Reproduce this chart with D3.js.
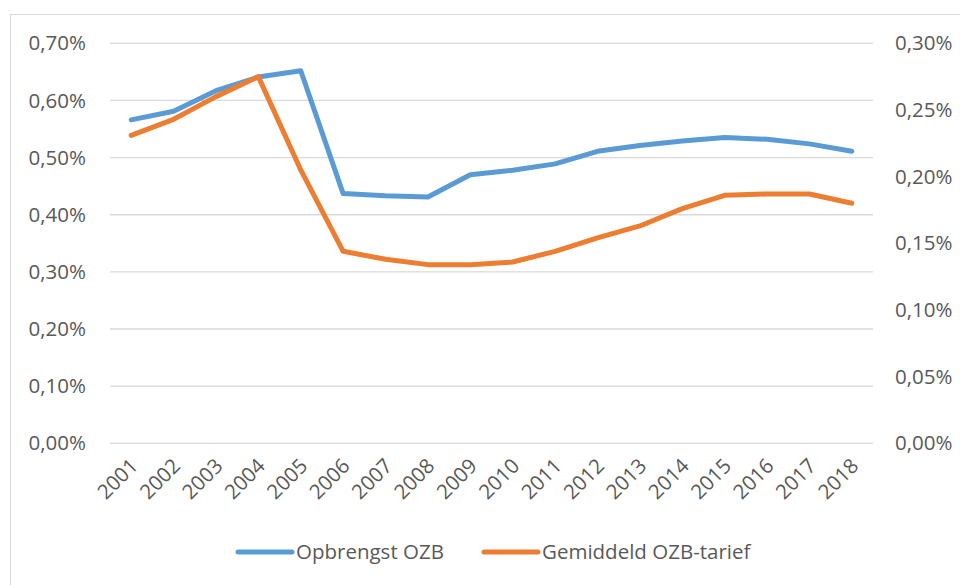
<!DOCTYPE html>
<html>
<head>
<meta charset="utf-8">
<script src="https://cdn.jsdelivr.net/npm/d3@7"></script>
<style>
  html, body { margin: 0; padding: 0; background: #fff; }
  svg { display: block; font-family: "Open Sans", "Liberation Sans", sans-serif; }
</style>
</head>
<body>
<svg id="chart" width="960" height="585"></svg>
<script>
// Years on the category axis
const years = ["2001","2002","2003","2004","2005","2006","2007","2008","2009",
               "2010","2011","2012","2013","2014","2015","2016","2017","2018"];

// Opbrengst OZB (left axis, percent)
const opbrengst = [0.566, 0.581, 0.617, 0.641, 0.652, 0.437, 0.433, 0.431, 0.470,
                   0.478, 0.489, 0.511, 0.521, 0.529, 0.535, 0.532, 0.524, 0.511];

// Gemiddeld OZB-tarief (right axis, percent)
const tarief = [0.231, 0.243, 0.260, 0.275, 0.205, 0.144, 0.138, 0.134, 0.134,
                0.136, 0.144, 0.154, 0.163, 0.176, 0.186, 0.187, 0.187, 0.180];

const leftTicks = [0, 0.1, 0.2, 0.3, 0.4, 0.5, 0.6, 0.7];
const rightTicks = [0, 0.05, 0.1, 0.15, 0.2, 0.25, 0.3];
const seriesNames = ["Opbrengst OZB", "Gemiddeld OZB-tarief"];
const colors = ["#5B9BD5", "#ED7D31"];

const svg = d3.select("#chart");
const plot = { left: 110, right: 873, top: 43.3, bottom: 443.3 };
const fontSize = 20.5;
const textColor = "#595959";

const x = d3.scaleBand().domain(years).range([plot.left, plot.right]);
const yL = d3.scaleLinear().domain([0, 0.7]).range([plot.bottom, plot.top]);
const yR = d3.scaleLinear().domain([0, 0.3]).range([plot.bottom, plot.top]);
const fmt = v => d3.format(".2f")(v).replace(".", ",") + "%";

// Outer chart border
svg.append("rect")
  .attr("x", 10.5).attr("y", 14.5).attr("width", 980).attr("height", 600)
  .attr("fill", "none").attr("stroke", "#d9d9d9").attr("stroke-width", 1);

// Horizontal gridlines on the left-axis ticks
svg.append("g").selectAll("line").data(leftTicks).join("line")
  .attr("x1", plot.left).attr("x2", plot.right)
  .attr("y1", d => yL(d)).attr("y2", d => yL(d))
  .attr("stroke", "#d9d9d9").attr("stroke-width", 1.3);

// Left axis
const axL = svg.append("g").attr("transform", `translate(${plot.left - 24},0)`)
  .call(d3.axisLeft(yL).tickValues(leftTicks).tickFormat(fmt).tickSize(0).tickPadding(0));
axL.select(".domain").remove();
axL.selectAll("text").attr("font-size", fontSize).attr("fill", textColor)
  .attr("font-family", "Open Sans, sans-serif");

// Right axis
const axR = svg.append("g").attr("transform", `translate(${plot.right + 22},0)`)
  .call(d3.axisRight(yR).tickValues(rightTicks).tickFormat(fmt).tickSize(0).tickPadding(0));
axR.select(".domain").remove();
axR.selectAll("text").attr("font-size", fontSize).attr("fill", textColor)
  .attr("font-family", "Open Sans, sans-serif");

// Category axis with rotated year labels
const axX = svg.append("g").attr("transform", `translate(0,${plot.bottom})`)
  .call(d3.axisBottom(x).tickSize(0).tickPadding(0));
axX.select(".domain").remove();
axX.selectAll("text")
  .attr("font-size", fontSize).attr("fill", textColor)
  .attr("font-family", "Open Sans, sans-serif")
  .attr("text-anchor", "end")
  .attr("dy", 0)
  .attr("transform", "translate(8,24) rotate(-45)");

// Lines
const lineL = d3.line().x((d, i) => x(years[i]) + x.bandwidth() / 2).y(d => yL(d));
const lineR = d3.line().x((d, i) => x(years[i]) + x.bandwidth() / 2).y(d => yR(d));

svg.append("path").datum(opbrengst).attr("d", lineL)
  .attr("fill", "none").attr("stroke", colors[0]).attr("stroke-width", 5)
  .attr("stroke-linejoin", "round").attr("stroke-linecap", "round");
svg.append("path").datum(tarief).attr("d", lineR)
  .attr("fill", "none").attr("stroke", colors[1]).attr("stroke-width", 5)
  .attr("stroke-linejoin", "round").attr("stroke-linecap", "round");

// Legend
const legendX = [238, 484];
const legend = svg.append("g");
seriesNames.forEach((name, i) => {
  legend.append("line")
    .attr("x1", legendX[i]).attr("x2", legendX[i] + 54)
    .attr("y1", 552).attr("y2", 552)
    .attr("stroke", colors[i]).attr("stroke-width", 5).attr("stroke-linecap", "round");
  legend.append("text")
    .attr("x", legendX[i] + 58).attr("y", 552).attr("dy", "0.35em")
    .attr("font-size", fontSize).attr("fill", textColor)
    .text(name);
});
</script>
</body>
</html>
